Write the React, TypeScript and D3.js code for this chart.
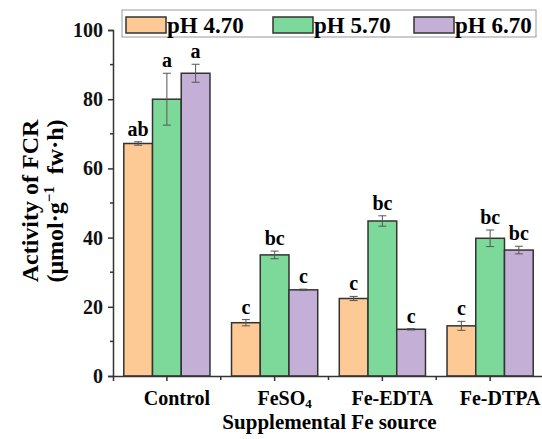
import React, { useEffect, useRef } from 'react';
import * as d3 from 'd3';

// chart data
const categories = ['Control', 'FeSO4', 'Fe-EDTA', 'Fe-DTPA'];
const seriesNames = ['pH 4.70', 'pH 5.70', 'pH 6.70'];
const ph470 = [67.2, 15.4, 22.4, 14.5];
const ph570 = [80.0, 35.0, 44.8, 39.8];
const ph670 = [87.5, 24.9, 13.5, 36.4];
const err470 = [0.5, 0.9, 0.6, 1.3];
const err570 = [7.5, 1.1, 1.5, 2.4];
const err670 = [2.6, 0.2, 0.2, 1.1];
const letters470 = ['ab', 'c', 'c', 'c'];
const letters570 = ['a', 'bc', 'bc', 'bc'];
const letters670 = ['a', 'c', 'c', 'bc'];
const yTicks = [0, 20, 40, 60, 80, 100];
const colors = ['#FDC994', '#7DD99A', '#C4B0D6'];

const W = 542;
const H = 439;
const FONT = "'Liberation Serif', 'DejaVu Serif', 'Times New Roman', serif";

export default function App() {
  const ref = useRef<SVGSVGElement>(null);

  useEffect(() => {
    const svg = d3.select(ref.current);
    svg.selectAll('*').remove();
    const margin = { left: 113, top: 30, bottom: 63 };
    const y = d3.scaleLinear().domain([0, 100]).range([H - margin.bottom, margin.top]);
    const x = d3.scaleBand().domain(categories).range([margin.left, 544]).paddingInner(0.2).paddingOuter(0.1);
    const xs = d3.scaleBand().domain(seriesNames).range([0, x.bandwidth()]);

    const values = [ph470, ph570, ph670];
    const errs = [err470, err570, err670];
    const letters = [letters470, letters570, letters670];

    const rows = categories.flatMap((c, ci) =>
      seriesNames.map((s, si) => ({
        cat: c, series: si, name: s,
        v: values[si][ci], e: errs[si][ci], l: letters[si][ci],
      }))
    );

    // bars
    svg.append('g').selectAll('rect').data(rows).enter().append('rect')
      .attr('x', d => x(d.cat)! + xs(d.name)!)
      .attr('y', d => y(d.v))
      .attr('width', xs.bandwidth())
      .attr('height', d => y(0) - y(d.v))
      .attr('fill', d => colors[d.series])
      .attr('stroke', '#333')
      .attr('stroke-width', 1.5);

    // error bars
    const eg = svg.append('g').attr('stroke', '#555').attr('stroke-width', 1);
    rows.forEach(d => {
      const cx = x(d.cat)! + xs(d.name)! + xs.bandwidth() / 2;
      eg.append('line').attr('x1', cx).attr('x2', cx).attr('y1', y(d.v + d.e)).attr('y2', y(d.v - d.e));
      eg.append('line').attr('x1', cx - 4).attr('x2', cx + 4).attr('y1', y(d.v + d.e)).attr('y2', y(d.v + d.e));
      eg.append('line').attr('x1', cx - 4).attr('x2', cx + 4).attr('y1', y(d.v - d.e)).attr('y2', y(d.v - d.e));
    });

    // significance letters
    svg.append('g').selectAll('text').data(rows).enter().append('text')
      .attr('x', d => x(d.cat)! + xs(d.name)! + xs.bandwidth() / 2)
      .attr('y', d => y(d.v + d.e) - 6)
      .attr('text-anchor', 'middle')
      .style('font-family', FONT).attr('font-weight', 'bold').attr('font-size', 20)
      .text(d => d.l);

    // y axis
    const ya = svg.append('g').attr('transform', `translate(${margin.left},0)`)
      .call(d3.axisLeft(y).tickValues(yTicks).tickSize(5).tickPadding(5));
    ya.selectAll('.tick text').style('font-family', FONT).attr('font-weight', 'bold').attr('font-size', 20).attr('fill', '#111');
    ya.select('.domain').attr('stroke', '#333').attr('stroke-width', 1.5);
    ya.selectAll('.tick line').attr('stroke', '#333').attr('stroke-width', 1.5);
    ya.append('g').selectAll('line').data(d3.range(10, 100, 20)).enter().append('line')
      .attr('x1', -3).attr('x2', 0).attr('y1', d => y(d)).attr('y2', d => y(d))
      .attr('stroke', '#333').attr('stroke-width', 1.5);

    // x axis
    const xa = svg.append('g').attr('transform', `translate(0,${y(0)})`)
      .call(d3.axisBottom(x).tickSize(5).tickFormat(() => ''));
    xa.select('.domain').attr('stroke', '#333').attr('stroke-width', 1.5);
    xa.selectAll('.tick line').attr('stroke', '#333').attr('stroke-width', 1.5);
    xa.append('g').selectAll('line').data(categories.slice(1)).enter().append('line')
      .attr('x1', d => x(d)! - x.step() * 0.1).attr('x2', d => x(d)! - x.step() * 0.1)
      .attr('y1', 0).attr('y2', 4)
      .attr('stroke', '#333').attr('stroke-width', 1.5);

    // category labels sit a little right of their ticks in the original
    const catText = svg.append('g').selectAll('text').data(categories).enter().append('text')
      .attr('x', d => x(d)! + x.bandwidth() / 2 + 10)
      .attr('y', y(0) + 29)
      .attr('text-anchor', 'middle')
      .style('font-family', FONT).attr('font-weight', 'bold').attr('font-size', 20);
    catText.each(function (d) {
      const t = d3.select(this);
      if (d === 'FeSO4') {
        t.append('tspan').text('FeSO');
        t.append('tspan').attr('font-size', 13).attr('dy', 3).text('4');
      } else {
        t.text(d);
      }
    });

    svg.append('text')
      .attr('x', (margin.left + W) / 2 + 2).attr('y', H - 10)
      .attr('text-anchor', 'middle')
      .style('font-family', FONT).attr('font-weight', 'bold').attr('font-size', 21)
      .text('Supplemental Fe source');

    // y title
    const yt = svg.append('g').attr('transform', 'translate(38,201) rotate(-90)')
      .style('font-family', FONT).attr('font-weight', 'bold').attr('font-size', 24).attr('text-anchor', 'middle');
    yt.append('text').attr('y', 0).text('Activity of FCR');
    const l2 = yt.append('text').attr('y', 25);
    l2.append('tspan').text('(μmol·g');
    l2.append('tspan').attr('font-size', 15).attr('dy', -9).text('−1');
    l2.append('tspan').attr('dy', 9).text('\u00a0\u00a0fw·h)');

    // legend
    const lg = svg.append('g');
    lg.append('rect').attr('x', 122).attr('y', 10).attr('width', 414).attr('height', 27)
      .attr('fill', 'white').attr('stroke', '#999').attr('stroke-width', 1);
    const lx = [126, 273, 414];
    seriesNames.forEach((s, i) => {
      lg.append('rect').attr('x', lx[i]).attr('y', 17).attr('width', 40).attr('height', 16)
        .attr('fill', colors[i]).attr('stroke', '#333').attr('stroke-width', 1.5);
      lg.append('text').attr('x', lx[i] + 41).attr('y', 33)
        .style('font-family', FONT).attr('font-weight', 'bold').attr('font-size', 23)
        .text(s);
    });
  }, []);

  return (
    <svg ref={ref} width={W} height={H} style={{ position: 'fixed', left: 0, top: 0, background: 'white' }} />
  );
}
